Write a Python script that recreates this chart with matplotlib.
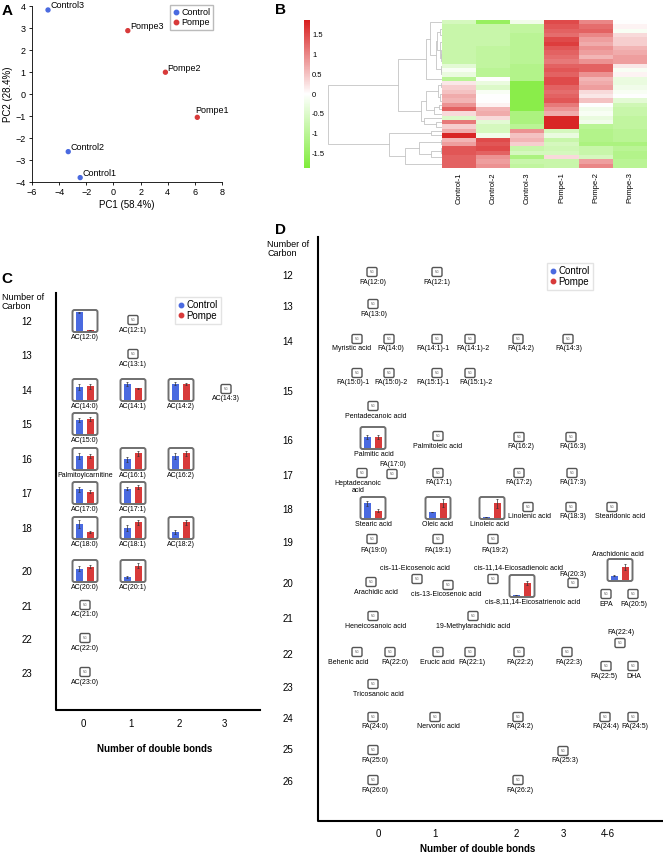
import numpy as np
import matplotlib
matplotlib.use('Agg')
import matplotlib.pyplot as plt
from matplotlib.patches import FancyBboxPatch
from matplotlib.lines import Line2D
from matplotlib.colors import LinearSegmentedColormap

plt.rcParams['font.family'] = ['Liberation Sans', 'DejaVu Sans']

W, H = 663, 858
BLUE = '#4a6ae0'
RED = '#d83a3a'

# ---------------- A: PCA scores ----------------
pca_names = ['Control1', 'Control2', 'Control3', 'Pompe1', 'Pompe2', 'Pompe3']
pca_pc1 = [-2.45, -3.33, -4.82, 6.18, 3.83, 1.06]
pca_pc2 = [-3.80, -2.62, 3.82, -1.06, 0.99, 2.88]
pca_group = ['Control', 'Control', 'Control', 'Pompe', 'Pompe', 'Pompe']

# ---------------- B: heatmap (rows x samples) ----------------
heat_cols = ['Control-1', 'Control-2', 'Control-3', 'Pompe-1', 'Pompe-2', 'Pompe-3']
heat_vals = np.array([
    [-0.6, -1.5, -0.2, 1.5, 1.0, 0.0],
    [-0.8, -0.8, -0.9, 1.4, 1.2, 0.1],
    [-0.8, -0.8, -0.9, 1.3, 1.3, -0.1],
    [-0.8, -0.8, -1.0, 1.2, 1.0, 0.3],
    [-0.8, -0.8, -1.0, 1.5, 0.8, 0.4],
    [-0.8, -0.8, -1.0, 1.6, 0.7, 0.4],
    [-0.8, -0.9, -1.0, 1.4, 0.9, 0.6],
    [-0.8, -0.9, -1.0, 1.3, 0.8, 0.7],
    [-0.8, -0.9, -1.0, 1.2, 0.6, 0.8],
    [-0.8, -0.9, -1.0, 1.1, 0.9, 0.8],
    [-0.4, -0.9, -1.1, 1.3, 1.3, 0.2],
    [-0.1, -1.0, -1.1, 1.4, 1.3, -0.1],
    [-0.3, -1.0, -1.1, 1.3, 0.9, 0.1],
    [-1.0, 0.0, -1.1, 1.5, 0.6, -0.3],
    [0.2, -0.3, -1.7, 1.5, 0.7, -0.3],
    [0.4, -0.5, -1.7, 1.3, 0.8, -0.2],
    [0.5, -0.1, -1.7, 1.2, 0.3, -0.1],
    [0.7, 0.0, -1.7, 1.3, 0.2, 0.0],
    [0.6, 0.0, -1.7, 1.4, 0.5, -0.4],
    [0.9, 0.1, -1.7, 1.1, 0.0, -0.7],
    [1.3, 0.6, -1.7, 0.9, -0.2, -0.8],
    [0.3, 0.7, -1.2, 0.7, -0.1, -0.8],
    [-0.5, 0.3, -1.2, 1.8, -0.3, -0.9],
    [1.1, -0.4, -1.2, 1.8, -0.2, -0.9],
    [0.4, -0.6, -1.0, 1.8, -1.0, -0.9],
    [0.7, -0.6, 0.9, -0.6, -1.1, -1.0],
    [1.8, -0.2, 0.5, -0.3, -1.1, -1.0],
    [0.6, 1.5, 0.6, -0.8, -1.1, -1.0],
    [0.8, 1.4, 0.4, -0.6, -1.2, -1.2],
    [1.4, 1.5, -0.8, -0.7, -0.8, -1.0],
    [1.4, 1.3, -0.6, -0.6, -0.8, -1.1],
    [1.3, 0.9, -1.2, 0.3, -0.6, -1.1],
    [1.3, 0.8, -0.8, -0.8, 0.8, -1.0],
    [1.3, 0.9, -0.9, -0.8, 1.0, -1.0],
])
heat_lim = 1.87
cbar_ticks = [-1.5, -1, -0.5, 0, 0.5, 1, 1.5]
cbar_labels = ['-1.5', '-1', '-0.5', '0', '0.5', '1', '1.5']

# ---------------- C: acylcarnitines ----------------
ac_names = ['AC(12:0)', 'AC(12:1)', 'AC(13:1)', 'AC(14:0)', 'AC(14:1)', 'AC(14:2)', 'AC(14:3)',
            'AC(15:0)', 'Palmitoylcarnitine', 'AC(16:1)', 'AC(16:2)', 'AC(17:0)', 'AC(17:1)',
            'AC(18:0)', 'AC(18:1)', 'AC(18:2)', 'AC(20:0)', 'AC(20:1)', 'AC(21:0)', 'AC(22:0)', 'AC(23:0)']
ac_carbon = [12, 12, 13, 14, 14, 14, 14, 15, 16, 16, 16, 17, 17, 18, 18, 18, 20, 20, 21, 22, 23]
ac_bonds = [0, 1, 1, 0, 1, 2, 3, 0, 0, 1, 2, 0, 1, 0, 1, 2, 0, 1, 0, 0, 0]
ac_control = [0.95, None, None, 0.65, 0.81, 0.83, None, 0.70, 0.68, 0.48, 0.65, 0.70, 0.74,
              0.70, 0.50, 0.30, 0.63, 0.20, None, None, None]
ac_pompe = [0.02, None, None, 0.70, 0.60, 0.83, None, 0.76, 0.65, 0.80, 0.80, 0.57, 0.80,
            0.28, 0.80, 0.80, 0.74, 0.78, None, None, None]
ac_control_err = [0.05, 0, 0, 0.15, 0.10, 0.08, 0, 0.10, 0.15, 0.15, 0.15, 0.12, 0.08,
                  0.20, 0.15, 0.10, 0.12, 0.05, 0, 0, 0]
ac_pompe_err = [0.0, 0, 0, 0.12, 0.02, 0.05, 0, 0.12, 0.10, 0.12, 0.12, 0.08, 0.10,
                0.05, 0.12, 0.12, 0.10, 0.12, 0, 0, 0]
c_carbon_ticks = [12, 13, 14, 15, 16, 17, 18, 20, 21, 22, 23]
c_bond_ticks = ['0', '1', '2', '3']

# ---------------- D: fatty acids ----------------
fa_names = ['FA(12:0)', 'FA(12:1)', 'FA(13:0)', 'Myristic acid', 'FA(14:0)', 'FA(14:1)-1', 'FA(14:1)-2',
            'FA(14:2)', 'FA(14:3)', 'FA(15:0)-1', 'FA(15:0)-2', 'FA(15:1)-1', 'FA(15:1)-2',
            'Pentadecanoic acid', 'Palmitic acid', 'Palmitoleic acid', 'FA(16:2)', 'FA(16:3)',
            'FA(17:0)', 'Heptadecanoic\nacid', 'FA(17:1)', 'FA(17:2)', 'FA(17:3)',
            'Stearic acid', 'Oleic acid', 'Linoleic acid', 'Linolenic acid', 'FA(18:3)', 'Stearidonic acid',
            'FA(19:0)', 'FA(19:1)', 'FA(19:2)', 'cis-11-Eicosenoic acid', 'cis-11,14-Eicosadienoic acid',
            'Arachidic acid', 'cis-13-Eicosenoic acid', 'cis-8,11,14-Eicosatrienoic acid', 'FA(20:3)',
            'Arachidonic acid', 'EPA', 'FA(20:5)', 'Heneicosanoic acid', '19-Methylarachidic acid',
            'FA(22:4)', 'Behenic acid', 'FA(22:0)', 'Erucic acid', 'FA(22:1)', 'FA(22:2)', 'FA(22:3)',
            'FA(22:5)', 'DHA', 'Tricosanoic acid', 'FA(24:0)', 'Nervonic acid', 'FA(24:2)',
            'FA(24:4)', 'FA(24:5)', 'FA(25:0)', 'FA(25:3)', 'FA(26:0)', 'FA(26:2)']
fa_measured = {
    # name: (control, pompe, control_err, pompe_err)
    'Palmitic acid': (0.55, 0.55, 0.10, 0.10),
    'Stearic acid': (0.75, 0.35, 0.12, 0.08),
    'Oleic acid': (0.30, 0.75, 0.02, 0.20),
    'Linoleic acid': (0.02, 0.75, 0.0, 0.25),
    'cis-8,11,14-Eicosatrienoic acid': (0.02, 0.65, 0.0, 0.10),
    'Arachidonic acid': (0.20, 0.65, 0.02, 0.15),
}
d_carbon_ticks = [12, 13, 14, 15, 16, 17, 18, 19, 20, 21, 22, 23, 24, 25, 26]
d_bond_ticks = ['0', '1', '2', '3', '4-6']

# ---------------- layout (pixels) ----------------
c_row_y = [322, 356, 391, 425, 460, 494, 529, 572, 607, 640, 674]
c_col_x = [85, 133, 181, 226]
d_row_y = [276, 307, 342, 392, 441, 476, 510, 543, 584, 619, 655, 688, 719, 750, 782]
d_col_x = [378, 435, 516, 563, 608]
# box centre x, y and label x, y for each fatty acid
fa_layout = [
    (372, 272, 373, 282), (437, 272, 437, 282), (373, 304, 374, 314),
    (357, 339, 352, 349), (389, 339, 391, 349), (437, 339, 433, 349), (470, 339, 473, 349),
    (518, 339, 521, 349), (568, 339, 569, 349),
    (357, 373, 353, 383), (389, 373, 391, 383), (437, 373, 433, 383), (470, 373, 476, 383),
    (373, 406, 376, 416), (373, 438, 374, 455), (438, 436, 438, 447), (519, 437, 521, 447),
    (571, 437, 573, 447),
    (392, 474, 393, 464), (362, 473, 358, 487), (438, 473, 439, 483), (519, 473, 519, 483),
    (572, 473, 573, 483),
    (373, 508, 373, 524), (438, 508, 438, 524), (492, 508, 489, 524), (528, 507, 530, 516),
    (571, 507, 573, 516), (612, 507, 620, 516),
    (372, 539, 374, 550), (438, 539, 438, 550), (493, 539, 495, 550),
    (417, 579, 415, 569), (493, 579, 518, 568), (371, 582, 376, 592), (448, 585, 446, 594),
    (522, 586, 533, 602), (573, 583, 573, 574), (620, 570, 618, 554), (606, 594, 606, 604),
    (633, 594, 634, 604), (373, 616, 376, 626), (473, 616, 473, 627), (620, 643, 621, 633),
    (357, 652, 348, 662), (390, 652, 395, 662), (438, 652, 437, 662), (470, 652, 472, 662),
    (519, 652, 520, 662), (567, 652, 569, 662), (606, 666, 604, 676), (633, 666, 634, 676),
    (373, 684, 378, 694), (373, 717, 375, 727), (435, 717, 438, 727), (518, 717, 520, 727),
    (605, 717, 606, 727), (633, 717, 635, 727), (373, 750, 375, 760), (563, 751, 565, 761),
    (373, 780, 375, 790), (518, 780, 520, 790),
]


def px(x0, y0, x1, y1):
    return [x0 / W, 1 - y1 / H, (x1 - x0) / W, (y1 - y0) / H]


fig = plt.figure(figsize=(W / 100, H / 100), dpi=100)
ov = fig.add_axes([0, 0, 1, 1])
ov.set_xlim(0, W)
ov.set_ylim(H, 0)
ov.axis('off')

for lab, (x, y) in zip('ABCD', [(7, 11), (280, 10), (7, 279), (280, 230)]):
    ov.text(x, y, lab, fontsize=11, fontweight='bold', ha='center', va='center')

handles = [Line2D([], [], marker='o', ls='none', ms=3.2, color=BLUE),
           Line2D([], [], marker='o', ls='none', ms=3.2, color=RED)]

# ---- A ----
axA = fig.add_axes(px(32, 6, 222, 182))
cols = [BLUE if g == 'Control' else RED for g in pca_group]
axA.scatter(pca_pc1, pca_pc2, s=8, c=cols, zorder=3)
for n, xv, yv in zip(pca_names, pca_pc1, pca_pc2):
    off = (-2, 7) if n == 'Pompe1' else (2, 4)
    axA.annotate(n, (xv, yv), xytext=off, textcoords='offset pixels', fontsize=6.5,
                 ha='left', va='center')
axA.set_xlim(-6, 8)
axA.set_ylim(-4, 4)
axA.set_xticks(range(-6, 9, 2))
axA.set_yticks(range(-4, 5))
axA.tick_params(labelsize=6.5, length=2.5, width=0.6, pad=2)
for s in ['top', 'right']:
    axA.spines[s].set_visible(False)
for s in ['left', 'bottom']:
    axA.spines[s].set_linewidth(0.6)
axA.set_xlabel('PC1 (58.4%)', fontsize=7, labelpad=2)
axA.set_ylabel('PC2 (28.4%)', fontsize=7, labelpad=2)
axA.legend(handles, ['Control', 'Pompe'], loc='upper right', bbox_to_anchor=(213 / W, 1 - 5 / H),
           bbox_transform=fig.transFigure, fontsize=6.5, fancybox=False, edgecolor='#aaaaaa',
           handlelength=0.6, handletextpad=0.3, borderpad=0.3, labelspacing=0.15, borderaxespad=0)

# ---- B ----
cmap = LinearSegmentedColormap.from_list('gwr', ['#7fec3a', '#ffffff', '#d81e1e'])
axH = fig.add_axes(px(442, 20, 647, 168))
im = axH.imshow(heat_vals, aspect='auto', cmap=cmap, vmin=-heat_lim, vmax=heat_lim,
                interpolation='nearest')
axH.set_xticks(range(len(heat_cols)))
axH.set_xticklabels(heat_cols, rotation=90, fontsize=5.5)
axH.set_yticks([])
axH.tick_params(length=0, pad=3)
for s in axH.spines.values():
    s.set_visible(False)

# dendrogram: average linkage on correlation distance, merging only neighbouring
# clusters so that the row order of the heatmap is kept
dist = 1 - np.corrcoef(heat_vals)
clusters = [dict(rows=[i], y=float(i), h=0.0) for i in range(len(heat_vals))]
links = []
while len(clusters) > 1:
    costs = [dist[np.ix_(clusters[i]['rows'], clusters[i + 1]['rows'])].mean()
             for i in range(len(clusters) - 1)]
    k = int(np.argmin(costs))
    a, b = clusters[k], clusters[k + 1]
    h = max(costs[k], a['h'], b['h'])
    links.append((a['y'], a['h'], b['y'], b['h'], h))
    clusters[k:k + 2] = [dict(rows=a['rows'] + b['rows'], y=(a['y'] + b['y']) / 2, h=h)]
root = clusters[0]['h']
axD = fig.add_axes(px(325, 20, 442, 168))
for ya, ha, yb, hb, h in links:
    axD.plot([ha, h, h, hb], [ya, ya, yb, yb], color='#c4c4c4', lw=0.6)
axD.set_xlim(root * 117 / 114, 0)
axD.set_ylim(len(heat_vals) - 0.5, -0.5)
axD.axis('off')

cax = fig.add_axes(px(304, 20, 310, 168))
cb = fig.colorbar(im, cax=cax, ticks=cbar_ticks)
cb.set_ticklabels(cbar_labels)
cb.outline.set_visible(False)
cax.tick_params(length=0, labelsize=5.5, pad=1.5)


# ---- helpers for C and D ----
def nd_box(x, y, label, lx, ly):
    ov.add_patch(FancyBboxPatch((x - 5, y - 4.5), 10, 9, boxstyle='round,pad=0,rounding_size=1.5',
                                fc='white', ec='#555555', lw=1.0))
    ov.text(x, y, 'N.D.', fontsize=1.8, ha='center', va='center', color='#555555')
    ov.text(lx, ly, label, fontsize=5, ha='center', va='center', linespacing=1.0)


def bar_box(x, y, label, lx, ly, cv, pv, ce, pe):
    ov.add_patch(FancyBboxPatch((x - 12.5, y - 11), 25, 22, boxstyle='round,pad=0,rounding_size=2',
                                fc='white', ec='#6f6f6f', lw=1.4))
    bx = fig.add_axes(px(x - 12.5, y - 11, x + 12.5, y + 11))
    bx.patch.set_alpha(0)
    bx.bar([6.7, 17.8], [cv, pv], width=7, color=[BLUE, RED])
    bx.errorbar([6.7, 17.8], [cv, pv], yerr=[ce, pe], fmt='none', ecolor='#333333',
                elinewidth=0.5, capsize=1, capthick=0.5)
    bx.set_xlim(0, 25)
    bx.set_ylim(-0.07, 1.08)
    bx.axis('off')
    ov.text(lx, ly, label, fontsize=5, ha='center', va='center')


# ---- C ----
ov.plot([55.5, 55.5, 260], [293, 710, 710], color='black', lw=1.5)
ov.text(2, 302, 'Number of\nCarbon', fontsize=6.5, ha='left', va='center', linespacing=1.1)
for c, yv in zip(c_carbon_ticks, c_row_y):
    ov.text(27, yv, str(c), fontsize=7, ha='center', va='center')
for t, xv in zip(c_bond_ticks, c_col_x):
    ov.text(xv - 2, 724, t, fontsize=7, ha='center', va='center')
ov.text(155, 749, 'Number of double bonds', fontsize=7, fontweight='bold', ha='center', va='center')
for i, name in enumerate(ac_names):
    xv = c_col_x[ac_bonds[i]]
    yv = c_row_y[c_carbon_ticks.index(ac_carbon[i])]
    if ac_control[i] is None:
        nd_box(xv, yv - 2, name, xv, yv + 8)
    else:
        bar_box(xv, yv - 1, name, xv, yv + 15.5, ac_control[i], ac_pompe[i],
                ac_control_err[i], ac_pompe_err[i])
legC = ov.legend(handles, ['Control', 'Pompe'], loc='upper left', bbox_to_anchor=(175 / W, 1 - 297 / H),
                 bbox_transform=fig.transFigure, fontsize=7, fancybox=False, edgecolor='#dddddd',
                 handlelength=0.6, handletextpad=0.3, borderpad=0.3, labelspacing=0.1, borderaxespad=0)
ov.add_artist(legC)

# ---- D ----
ov.plot([318, 318, 662], [237, 821, 821], color='black', lw=1.5)
ov.text(267, 249, 'Number of\nCarbon', fontsize=6.5, ha='left', va='center', linespacing=1.1)
for c, yv in zip(d_carbon_ticks, d_row_y):
    ov.text(288, yv, str(c), fontsize=7, ha='center', va='center')
for t, xv in zip(d_bond_ticks, d_col_x):
    ov.text(xv, 834, t, fontsize=7, ha='center', va='center')
ov.text(478, 849, 'Number of double bonds', fontsize=7, fontweight='bold', ha='center', va='center')
for name, (bx_, by_, lx, ly) in zip(fa_names, fa_layout):
    if name in fa_measured:
        cv, pv, ce, pe = fa_measured[name]
        bar_box(bx_, by_, name, lx, ly, cv, pv, ce, pe)
    else:
        nd_box(bx_, by_, name, lx, ly)
ov.legend(handles, ['Control', 'Pompe'], loc='upper left', bbox_to_anchor=(547 / W, 1 - 263 / H),
          bbox_transform=fig.transFigure, fontsize=7, fancybox=False, edgecolor='#dddddd',
          handlelength=0.6, handletextpad=0.3, borderpad=0.3, labelspacing=0.1, borderaxespad=0)

fig.savefig('out.png', dpi=100)
